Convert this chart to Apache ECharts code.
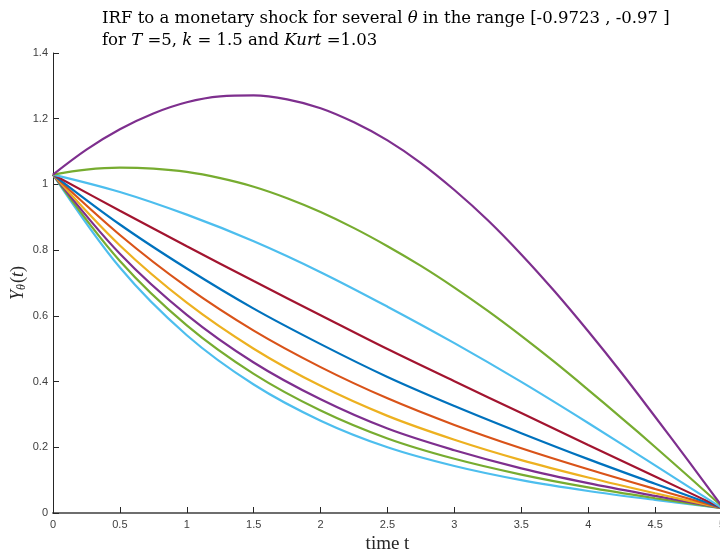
<!DOCTYPE html>
<html>
<head>
<meta charset="utf-8">
<script src="https://cdn.jsdelivr.net/npm/echarts@6/dist/echarts.min.js"></script>
<style>html,body{margin:0;padding:0;background:#fff;}#c{width:720px;height:550px;}</style>
</head>
<body>
<div id="c"></div>
<script>
// time grids (x values)
const tValues = [0, 0.5, 1, 1.5, 2, 2.5, 3, 3.5, 4, 4.5, 5];
const tFine = [0, 0.25, 0.5, 0.75, 1, 1.25, 1.5, 1.75, 2, 2.25, 2.5, 2.75, 3, 3.25, 3.5, 3.75, 4, 4.25, 4.5, 4.75, 5];
// IRF curves, top to bottom
const purpleTop = [1.03, 1.106, 1.168, 1.216, 1.25, 1.268, 1.271, 1.259, 1.232, 1.189, 1.134, 1.065, 0.983, 0.891, 0.787, 0.674, 0.553, 0.426, 0.293, 0.158, 0.02];
const greenTop  = [1.03, 1.045, 1.051, 1.048, 1.038, 1.019, 0.993, 0.958, 0.916, 0.867, 0.812, 0.752, 0.686, 0.615, 0.539, 0.459, 0.375, 0.289, 0.201, 0.111, 0.02];
const cyanMid   = [1.03, 0.977, 0.908, 0.827, 0.733, 0.628, 0.517, 0.399, 0.274, 0.145, 0.015];
const darkRed   = [1.03, 0.92, 0.812, 0.706, 0.602, 0.499, 0.401, 0.304, 0.207, 0.111, 0.015];
const blueMid   = [1.03, 0.878, 0.744, 0.622, 0.514, 0.414, 0.3255, 0.243, 0.164, 0.089, 0.015];
const orangeMid = [1.03, 0.846, 0.688, 0.555, 0.444, 0.349, 0.268, 0.197, 0.133, 0.073, 0.015];
const yellowMid = [1.03, 0.814, 0.64, 0.5, 0.387, 0.2956, 0.223, 0.161, 0.108, 0.06, 0.015];
const purpleLow = [1.03, 0.789, 0.603, 0.458, 0.346, 0.257, 0.191, 0.136, 0.091, 0.052, 0.015];
const greenLow  = [1.03, 0.767, 0.571, 0.4235, 0.312, 0.227, 0.165, 0.117, 0.078, 0.045, 0.015];
const cyanLow   = [1.03, 0.747, 0.541, 0.391, 0.281, 0.2, 0.143, 0.1, 0.067, 0.04, 0.015];
// tick labels
const xTicks = ['0','0.5','1','1.5','2','2.5','3','3.5','4','4.5','5'];
const yTicks = ['0','0.2','0.4','0.6','0.8','1','1.2','1.4'];

const curves = [
  {t: tValues, d: cyanLow,   c: '#4DBEEE'},
  {t: tValues, d: greenLow,  c: '#77AC30'},
  {t: tValues, d: purpleLow, c: '#7E2F8E'},
  {t: tValues, d: yellowMid, c: '#EDB120'},
  {t: tValues, d: orangeMid, c: '#D95319'},
  {t: tValues, d: blueMid,   c: '#0072BD'},
  {t: tValues, d: darkRed,   c: '#A2142F'},
  {t: tValues, d: cyanMid,   c: '#4DBEEE'},
  {t: tFine,   d: greenTop,  c: '#77AC30'},
  {t: tFine,   d: purpleTop, c: '#7E2F8E'}
];

const serif = '"DejaVu Serif", "Liberation Serif", serif';
const lserif = '"Liberation Serif", "Times New Roman", serif';
const chart = echarts.init(document.getElementById('c'), null, {renderer: 'canvas'});
chart.setOption({
  backgroundColor: '#fff',
  animation: false,
  title: {
    left: 97, top: 3,
    text: '{a|IRF to a monetary shock for several }{i|θ}{a| in the range [-0.9723 , -0.97 ]}\n{a|for }{i|T}{a| =5, }{i|k}{a| = 1.5 and }{i|Kurt}{a| =1.03}',
    textStyle: {
      fontWeight: 'normal',
      rich: {
        a: {fontFamily: serif, fontSize: 16.5, fontWeight: 'normal', color: '#000', lineHeight: 22},
        i: {fontFamily: serif, fontSize: 16.5, fontWeight: 'normal', fontStyle: 'italic', color: '#000', lineHeight: 22}
      }
    }
  },
  grid: {left: 53, right: -2, top: 53, bottom: 37, outerBoundsMode: 'none', containLabel: false},
  xAxis: {
    type: 'value', min: 0, max: 5, interval: 0.5,
    name: 'time t', nameLocation: 'middle', nameGap: 14,
    nameTextStyle: {fontFamily: lserif, fontSize: 19, color: '#262626'},
    axisLine: {show: true, lineStyle: {color: '#6e6e6e', width: 2}},
    axisTick: {show: true, inside: true, length: 6, lineStyle: {color: '#262626'}},
    axisLabel: {margin: 6, fontSize: 11, color: '#404040', fontFamily: 'Liberation Sans, Arial, sans-serif',
      formatter: v => xTicks[Math.round(v / 0.5)]},
    splitLine: {show: false}
  },
  yAxis: {
    type: 'value', min: 0, max: 1.4, interval: 0.2,
    name: '{i|Y}{s|θ}{n|(}{i|t}{n|)}', nameLocation: 'middle', nameGap: 25, nameRotate: 90,
    nameMoveOverlap: false,
    nameTextStyle: {
      rich: {
        i: {fontFamily: lserif, fontSize: 18, fontStyle: 'italic', color: '#262626'},
        n: {fontFamily: lserif, fontSize: 18, color: '#262626'},
        s: {fontFamily: lserif, fontSize: 12, fontStyle: 'italic', color: '#262626', padding: [8, 1, 0, 0]}
      }
    },
    axisLine: {show: true, lineStyle: {color: '#262626', width: 1}},
    axisTick: {show: true, inside: true, length: 6, lineStyle: {color: '#262626'}},
    axisLabel: {margin: 5, fontSize: 11, color: '#404040', fontFamily: 'Liberation Sans, Arial, sans-serif',
      formatter: v => yTicks[Math.round(v / 0.2)]},
    splitLine: {show: false}
  },
  series: curves.map(cv => ({
    type: 'line',
    data: cv.t.map((t, i) => [t, cv.d[i]]),
    showSymbol: false,
    smooth: 0.35,
    clip: false,
    lineStyle: {color: cv.c, width: 2.2},
    itemStyle: {color: cv.c}
  }))
});
</script>
</body>
</html>
